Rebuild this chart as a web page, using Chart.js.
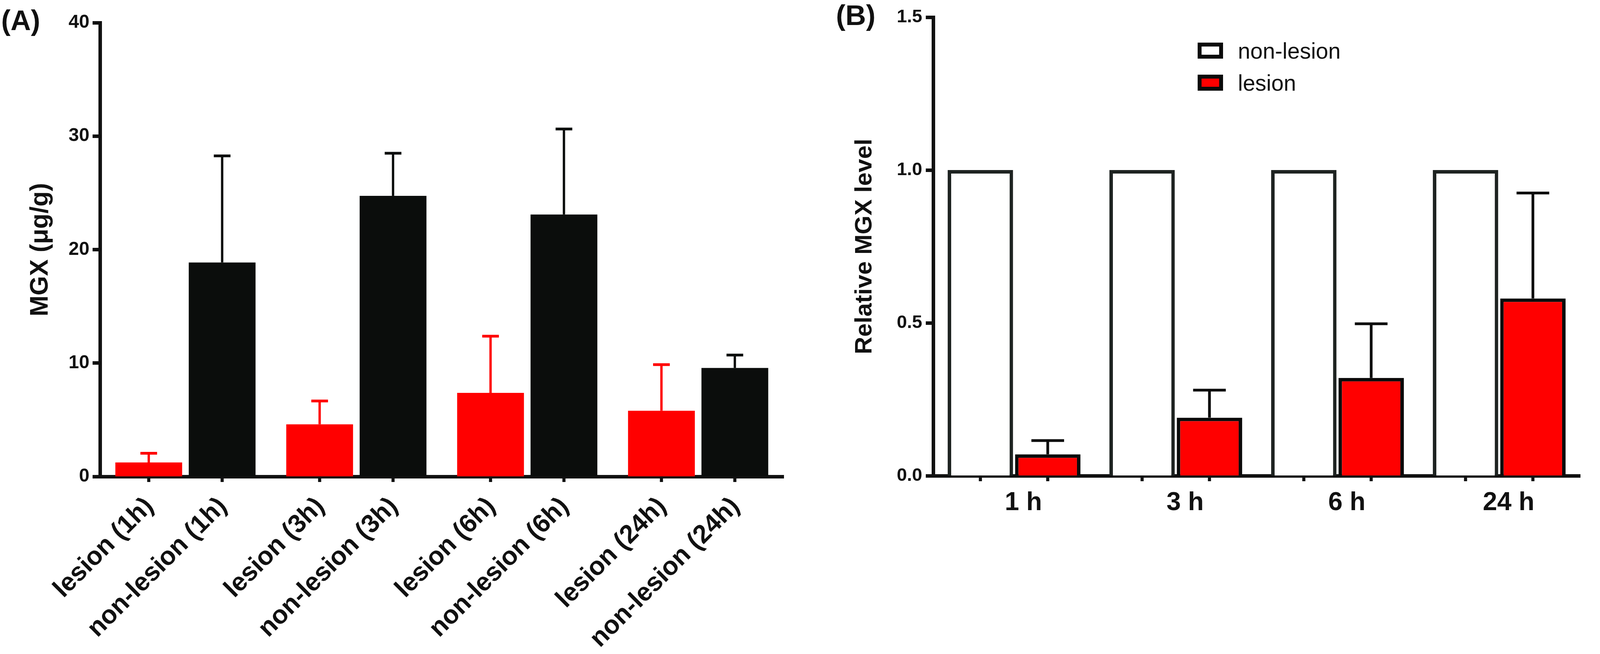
<!DOCTYPE html>
<html>
<head>
<meta charset="utf-8">
<script src="https://cdn.jsdelivr.net/npm/chart.js@4.4.1/dist/chart.umd.min.js"></script>
<style>
html,body{margin:0;padding:0;background:#ffffff;overflow:hidden;}
#wrap{position:relative;width:4150px;height:1673px;background:#fff;}
canvas{position:absolute;top:0;}
#cA{left:0;width:2100px;height:1673px;}
#cB{left:2100px;width:2050px;height:1673px;}
</style>
</head>
<body>
<div id="wrap">
<canvas id="cA" width="2100" height="1673"></canvas>
<canvas id="cB" width="2050" height="1673"></canvas>
</div>
<script>
// ---------- data ----------
const timePoints = ['1h', '3h', '6h', '24h'];
const barLabelsA = ['lesion (1h)', 'non-lesion (1h)', 'lesion (3h)', 'non-lesion (3h)',
                    'lesion (6h)', 'non-lesion (6h)', 'lesion (24h)', 'non-lesion (24h)'];
const lesionMGX = [1.24, 4.6, 7.37, 5.8];
const lesionMGX_SD = [0.81, 2.06, 5.0, 4.06];
const nonLesionMGX = [18.86, 24.74, 23.09, 9.57];
const nonLesionMGX_SD = [9.4, 3.75, 7.54, 1.14];
const yTicksA = [0, 10, 20, 30, 40];

const timeLabelsB = ['1 h', '3 h', '6 h', '24 h'];
const nonLesionRel = [1, 1, 1, 1];
const lesionRel = [0.07, 0.19, 0.32, 0.58];
const lesionRelSD = [0.045, 0.09, 0.177, 0.345];
const yTicksB = [0.0, 0.5, 1.0, 1.5];

// ---------- styling ----------
const FONT = "'Liberation Sans', Arial, Helvetica, sans-serif";
const INK = '#111111';
const RED = '#ff0000';
const BLACK = '#0b0d0c';

const errorBarPlugin = {
  id: 'errorBars',
  afterDatasetsDraw(chart, args, opts) {
    const ctx = chart.ctx, ys = chart.scales.y;
    chart.data.datasets.forEach((ds, di) => {
      if (!ds.errors) return;
      const meta = chart.getDatasetMeta(di);
      meta.data.forEach((bar, i) => {
        const top = ys.getPixelForValue(ds.data[i] + ds.errors[i]);
        ctx.save();
        ctx.strokeStyle = ds.errorColor;
        ctx.lineCap = 'butt';
        ctx.lineWidth = opts.stem;
        ctx.beginPath(); ctx.moveTo(bar.x, bar.y); ctx.lineTo(bar.x, top); ctx.stroke();
        ctx.lineWidth = opts.cap;
        const half = bar.width * opts.capRatio / 2;
        ctx.beginPath(); ctx.moveTo(bar.x - half, top); ctx.lineTo(bar.x + half, top); ctx.stroke();
        ctx.restore();
      });
    });
  }
};

const barTicksPlugin = {
  id: 'barTicks',
  afterDraw(chart) {
    const ctx = chart.ctx, bottom = chart.chartArea.bottom;
    ctx.save();
    ctx.strokeStyle = INK;
    ctx.lineWidth = 8;
    chart.data.datasets.forEach((ds, di) => {
      chart.getDatasetMeta(di).data.forEach(bar => {
        ctx.beginPath(); ctx.moveTo(bar.x, bottom); ctx.lineTo(bar.x, bottom + 14); ctx.stroke();
      });
    });
    ctx.restore();
  }
};

const panelLetterPlugin = {
  id: 'panelLetter',
  afterDraw(chart, args, opts) {
    const ctx = chart.ctx;
    ctx.save();
    ctx.font = 'bold ' + opts.size + 'px ' + FONT;
    ctx.fillStyle = INK;
    ctx.textAlign = 'left';
    ctx.textBaseline = 'alphabetic';
    ctx.fillText(opts.text, opts.x, opts.y);
    ctx.restore();
  }
};

const rotatedBarLabelsPlugin = {
  id: 'rotatedBarLabels',
  afterDraw(chart, args, opts) {
    const ctx = chart.ctx, bottom = chart.chartArea.bottom;
    ctx.save();
    ctx.font = 'bold ' + opts.size + 'px ' + FONT;
    ctx.fillStyle = INK;
    ctx.textAlign = 'right';
    ctx.textBaseline = 'middle';
    const n = chart.data.datasets.length;
    chart.data.datasets.forEach((ds, di) => {
      chart.getDatasetMeta(di).data.forEach((bar, i) => {
        const text = barLabelsA[i * n + di];
        ctx.save();
        ctx.translate(bar.x + opts.dx, bottom + opts.dy);
        ctx.rotate(-Math.PI / 4);
        ctx.fillText(text, 0, 0);
        ctx.restore();
      });
    });
    ctx.restore();
  }
};

const boxLegendPlugin = {
  id: 'boxLegend',
  afterDraw(chart, args, opts) {
    const ctx = chart.ctx;
    ctx.save();
    ctx.font = opts.size + 'px ' + FONT;
    ctx.textAlign = 'left';
    ctx.textBaseline = 'alphabetic';
    chart.data.datasets.forEach((ds, i) => {
      const top = opts.y + i * opts.rowGap;
      const x = opts.x, w = opts.boxW, h = opts.boxH, b = opts.border;
      ctx.fillStyle = '#0a0a0a';
      ctx.fillRect(x, top, w, h);
      ctx.fillStyle = ds.backgroundColor;
      ctx.fillRect(x + b, top + b, w - 2 * b, h - 2 * b);
      ctx.fillStyle = INK;
      ctx.fillText(ds.label, opts.textX, top + h);
    });
    ctx.restore();
  }
};

function fixedTicks(arr) {
  return function (scale) { scale.ticks = arr.map(v => ({ value: v })); };
}

// ---------- Panel A ----------
new Chart(document.getElementById('cA'), {
  type: 'bar',
  data: {
    labels: timePoints,
    datasets: [
      { label: 'lesion', data: lesionMGX, errors: lesionMGX_SD, errorColor: RED,
        backgroundColor: RED, borderWidth: 0 },
      { label: 'non-lesion', data: nonLesionMGX, errors: nonLesionMGX_SD, errorColor: BLACK,
        backgroundColor: BLACK, borderWidth: 0 }
    ]
  },
  options: {
    responsive: false, animation: false, devicePixelRatio: 1,
    layout: { padding: { left: 0, right: 94, top: 58, bottom: 0 } },
    datasets: { bar: { categoryPercentage: 0.859, barPercentage: 0.91 } },
    plugins: {
      legend: { display: false }, tooltip: { enabled: false },
      errorBars: { stem: 6, cap: 7, capRatio: 0.25 },
      panelLetter: { text: '(A)', x: 3, y: 77, size: 72 },
      rotatedBarLabels: { size: 66, dx: 2, dy: 66 }
    },
    scales: {
      x: {
        grid: { display: false, drawTicks: false },
        border: { display: true, width: 9, color: INK },
        ticks: { display: false },
        afterFit(s) { s.height = 454; }
      },
      y: {
        min: 0, max: 40,
        afterBuildTicks: fixedTicks(yTicksA),
        ticks: { color: INK, padding: 8, font: { family: FONT, size: 48, weight: 'bold' } },
        grid: { drawOnChartArea: false, drawTicks: true, tickLength: 19, tickWidth: 9, tickColor: INK, color: INK },
        border: { display: true, width: 9, color: INK },
        title: { display: true, text: 'MGX (μg/g)', color: INK,
                 font: { family: FONT, size: 64, weight: 'bold' }, padding: { top: 66, bottom: 0 } },
        afterFit(s) { s.width = 256; }
      }
    }
  },
  plugins: [errorBarPlugin, barTicksPlugin, panelLetterPlugin, rotatedBarLabelsPlugin]
});

// ---------- Panel B ----------
new Chart(document.getElementById('cB'), {
  type: 'bar',
  data: {
    labels: timeLabelsB,
    datasets: [
      { label: 'non-lesion', data: nonLesionRel, backgroundColor: '#ffffff',
        borderColor: '#1e2321', borderWidth: 9, borderSkipped: 'start' },
      { label: 'lesion', data: lesionRel, errors: lesionRelSD, errorColor: '#0a0a0a',
        backgroundColor: RED, borderColor: '#0a0a0a', borderWidth: 9, borderSkipped: 'start' }
    ]
  },
  options: {
    responsive: false, animation: false, devicePixelRatio: 1,
    layout: { padding: { left: 0, right: 105, top: 44, bottom: 0 } },
    datasets: { bar: { categoryPercentage: 0.833, barPercentage: 0.971 } },
    plugins: {
      legend: { display: false }, tooltip: { enabled: false },
      errorBars: { stem: 7, cap: 7, capRatio: 0.5 },
      panelLetter: { text: '(B)', x: 40, y: 64, size: 73 },
      boxLegend: { x: 966, y: 109, rowGap: 82, boxW: 65, boxH: 41, border: 10, textX: 1069, size: 57 }
    },
    scales: {
      x: {
        grid: { display: false, drawTicks: false },
        border: { display: true, width: 9, color: INK },
        ticks: { color: INK, padding: 30, labelOffset: 24, maxRotation: 0, autoSkip: false,
                 font: { family: FONT, size: 66, weight: 'bold' } },
        afterFit(s) { s.height = 456; }
      },
      y: {
        min: 0, max: 1.5,
        afterBuildTicks: fixedTicks(yTicksB),
        ticks: { color: INK, padding: 9, font: { family: FONT, size: 47, weight: 'bold' },
                 callback: v => Number(v).toFixed(1) },
        grid: { drawOnChartArea: false, drawTicks: true, tickLength: 19, tickWidth: 9, tickColor: INK, color: INK },
        border: { display: true, width: 9, color: INK },
        title: { display: true, text: 'Relative MGX level', color: INK,
                 font: { family: FONT, size: 62, weight: 'bold' }, padding: { top: 77, bottom: 0 } },
        afterFit(s) { s.width = 289; }
      }
    }
  },
  plugins: [errorBarPlugin, barTicksPlugin, panelLetterPlugin, boxLegendPlugin]
});
</script>
</body>
</html>
